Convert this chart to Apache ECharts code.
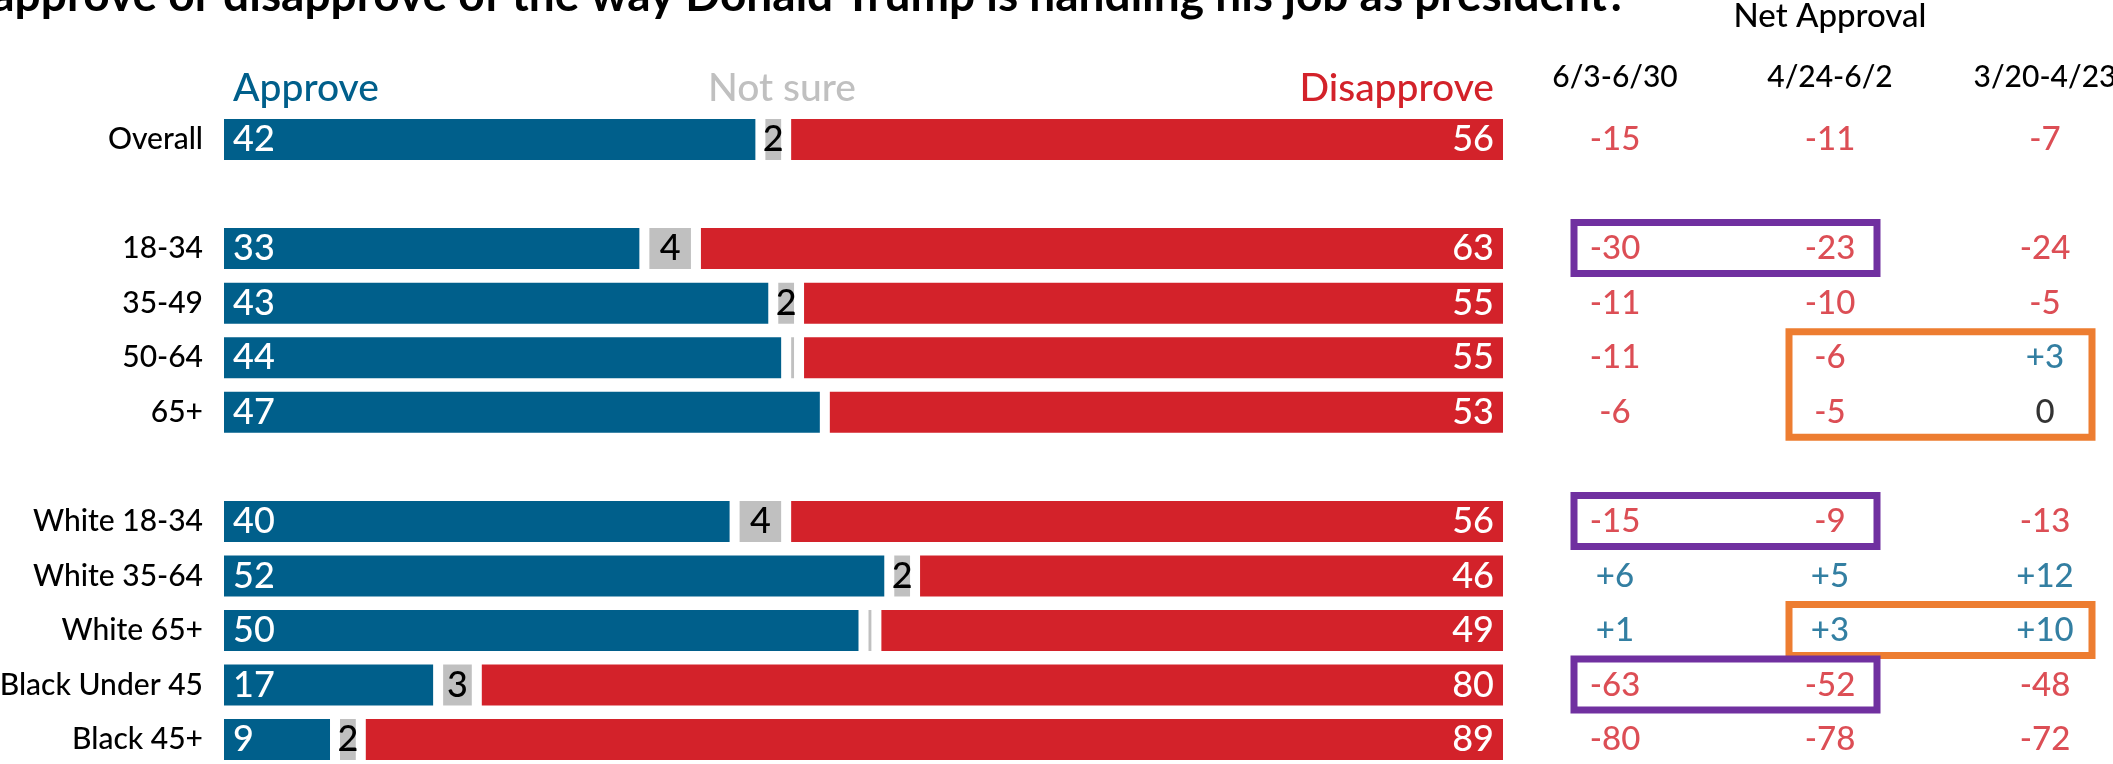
<!DOCTYPE html>
<html>
<head>
<meta charset="utf-8">
<script src="https://cdn.jsdelivr.net/npm/echarts@6/dist/echarts.min.js"></script>
<style>
html,body{margin:0;padding:0;background:#fff;}
#chart{width:2113px;height:764px;}
</style>
</head>
<body>
<div id="chart"></div>
<script>
// ---- data ----
var categories = ['Overall', '', '18-34', '35-49', '50-64', '65+', '', 'White 18-34', 'White 35-64', 'White 65+', 'Black Under 45', 'Black 45+'];
var approve    = [42, null, 33, 43, 44, 47, null, 40, 52, 50, 17, 9];
var notSure    = [2, null, 4, 2, 1, 0, null, 4, 2, 1, 3, 2];
var disapprove = [56, null, 63, 55, 55, 53, null, 56, 46, 49, 80, 89];
var periods    = ['6/3-6/30', '4/24-6/2', '3/20-4/23'];
var net1 = [-15, null, -30, -11, -11, -6, null, -15, 6, 1, -63, -80];
var net2 = [-11, null, -23, -10, -6, -5, null, -9, 5, 3, -52, -78];
var net3 = [-7, null, -24, -5, 3, 0, null, -13, 12, 10, -48, -72];
// highlight boxes: [firstColumn, lastColumn, firstRow, lastRow]
var purpleBoxes = [[0, 1, 2, 2], [0, 1, 7, 7], [0, 1, 10, 10]];
var orangeBoxes = [[1, 2, 4, 5], [1, 2, 9, 9]];

var BLUE = '#005F8B', RED = '#D3222A', GREY = '#C0C0C0';
var FONT = 'Lato';
var W = 500;

var nets = [net1, net2, net3];
var netSeries = nets.map(function (arr, ci) {
  var d = [];
  arr.forEach(function (v, ri) {
    if (v === null) return;
    d.push({
      value: [ci, ri, v],
      label: { color: v > 0 ? BLUE : (v < 0 ? RED : '#000') }
    });
  });
  return {
    type: 'scatter', xAxisIndex: 1, yAxisIndex: 1,
    symbol: 'circle', symbolSize: 1,
    itemStyle: { color: 'transparent' },
    label: {
      show: true, position: 'inside', fontFamily: FONT, fontWeight: W, fontSize: 33,
      formatter: function (p) { var v = p.value[2]; return v > 0 ? '+' + v : '' + v; }
    },
    data: d, silent: true, z: 5
  };
});

function boxSeries(boxes, color) {
  return {
    type: 'custom', xAxisIndex: 1, yAxisIndex: 1, silent: true, z: 4,
    encode: { x: [0, 1], y: [2, 3] },
    data: boxes,
    renderItem: function (params, api) {
      var p0 = api.coord([api.value(0), api.value(2)]);
      var p1 = api.coord([api.value(1), api.value(3)]);
      return {
        type: 'rect',
        shape: { x: p0[0] - 41, y: p0[1] - 26, width: p1[0] - p0[0] + 88, height: p1[1] - p0[1] + 51 },
        style: { fill: 'none', stroke: color, lineWidth: 7 }
      };
    }
  };
}

var barCommon = {
  type: 'bar', stack: 'all', barWidth: 51, xAxisIndex: 0, yAxisIndex: 0, silent: true
};
function bar(name, data, color, label) {
  return Object.assign({}, barCommon, {
    name: name, data: data,
    itemStyle: { color: color, borderColor: '#fff', borderWidth: 5 },
    label: label
  });
}

var chart = echarts.init(document.getElementById('chart'), null, { renderer: 'canvas' });
chart.setOption({
  animation: false,
  backgroundColor: '#fff',
  textStyle: { fontFamily: FONT },
  grid: [
    { left: 219, width: 1289, top: 112.2, height: 654.7, outerBoundsMode: 'none', containLabel: false },
    { left: 1507.5, width: 645, top: 112.2, height: 654.7, outerBoundsMode: 'none', containLabel: false }
  ],
  xAxis: [
    { gridIndex: 0, type: 'value', min: 0, max: 100, show: false },
    {
      gridIndex: 1, type: 'category', data: periods, position: 'top',
      axisLine: { show: false }, axisTick: { show: false }, splitLine: { show: false },
      axisLabel: { fontFamily: FONT, fontWeight: W, fontSize: 30, color: '#000', margin: 20 },
      name: 'Net Approval', nameLocation: 'middle', nameGap: 79,
      nameTextStyle: { fontFamily: FONT, fontWeight: W, fontSize: 33, color: '#000' }
    }
  ],
  yAxis: [
    {
      gridIndex: 0, type: 'category', data: categories, inverse: true,
      axisLine: { show: false }, axisTick: { show: false },
      axisLabel: { fontFamily: FONT, fontWeight: W, fontSize: 30, color: '#000', margin: 16 }
    },
    {
      gridIndex: 1, type: 'category', data: categories, inverse: true, show: false
    }
  ],
  graphic: [
    { type: 'text', x: 1628, y: -4, style: { text: 'Do you approve or disapprove of the way Donald Trump is handling his job as president?', font: 'bold 46px Lato', fill: '#000', align: 'right', verticalAlign: 'middle' } },
    { type: 'text', x: 233, y: 88, style: { text: 'Approve', font: '500 39px Lato', fill: BLUE, align: 'left', verticalAlign: 'middle' } },
    { type: 'text', x: 782, y: 88, style: { text: 'Not sure', font: '500 39px Lato', fill: GREY, align: 'center', verticalAlign: 'middle' } },
    { type: 'text', x: 1494, y: 88, style: { text: 'Disapprove', font: '500 39px Lato', fill: RED, align: 'right', verticalAlign: 'middle' } }
  ],
  series: [
    bar('Approve', approve, BLUE, { show: true, position: 'insideLeft', distance: 14, color: '#fff', fontFamily: FONT, fontWeight: W, fontSize: 36 }),
    bar('Not sure', notSure, GREY, { show: true, position: 'inside', color: '#000', fontFamily: FONT, fontWeight: W, fontSize: 36,
      formatter: function (p) { return p.value >= 2 ? '' + p.value : ''; } }),
    bar('Disapprove', disapprove, RED, { show: true, position: 'insideRight', distance: 14, color: '#fff', fontFamily: FONT, fontWeight: W, fontSize: 36 }),
    boxSeries(orangeBoxes, '#ED7D31'),
    boxSeries(purpleBoxes, '#7030A0')
  ].concat(netSeries)
});
</script>
</body>
</html>
